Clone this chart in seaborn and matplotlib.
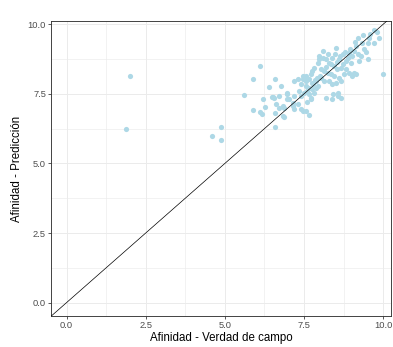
import numpy as np
import pandas as pd
import matplotlib
matplotlib.use("Agg")
import matplotlib.pyplot as plt
import seaborn as sns

# Verdad de campo (x) vs prediccion (y)
verdad = [1.89, 2.00, 4.59, 4.88, 4.88, 5.60, 5.90, 6.11, 10.0,
          5.88, 6.11, 6.18, 6.28, 6.22, 6.39, 6.51, 6.60, 6.72, 6.57,
          6.60, 6.83, 6.98, 7.02, 6.83, 6.78, 6.88, 6.62, 6.72, 6.88,
          7.14, 7.17, 7.30, 7.41, 7.46, 7.56, 7.67, 7.20, 7.19, 7.30,
          7.46, 7.56, 7.46, 7.41, 7.20, 7.41, 7.72, 7.72, 7.51, 7.61,
          7.67, 7.83, 7.56, 7.67, 7.77, 7.88, 7.56, 7.67, 7.72, 7.77,
          7.90, 7.83, 7.93, 7.98, 7.98, 8.04, 8.04, 8.09, 8.09, 8.14,
          8.14, 8.19, 8.25, 8.25, 8.30, 8.35, 8.35, 8.40, 8.40, 8.46,
          8.46, 8.49, 8.51, 8.51, 8.56, 8.61, 8.61, 8.67, 8.67, 8.72,
          8.72, 8.82, 8.82, 8.88, 8.93, 8.93, 9.03, 9.03, 9.09, 9.09,
          9.14, 9.16, 9.24, 9.30, 9.33, 9.40, 9.45, 9.51, 9.51, 9.54,
          9.72, 9.82, 9.87, 8.42, 8.40, 8.59, 8.67, 8.59, 8.21, 7.88,
          7.80, 7.95, 7.85, 8.00, 7.75, 8.20, 8.30, 8.55, 8.65, 8.80,
          8.95, 9.10, 9.20, 9.35, 9.60, 9.70, 9.00, 9.20, 8.75, 7.60,
          7.35, 6.56, 6.49, 6.98, 6.98]
prediccion = [6.24, 8.16, 5.97, 6.30, 5.85, 7.47, 8.02, 8.50, 8.22,
              6.92, 6.86, 6.78, 7.02, 7.30, 7.74, 7.38, 8.02, 7.42, 6.82,
              6.30, 7.06, 7.54, 7.30, 6.70, 7.78, 7.00, 7.12, 7.00, 6.66,
              7.18, 7.06, 7.12, 6.94, 6.90, 6.88, 6.76, 6.94, 7.96, 8.05,
              8.02, 8.14, 8.16, 7.84, 7.42, 7.42, 7.30, 7.34, 7.54, 7.60,
              7.48, 7.54, 7.78, 7.72, 7.66, 7.72, 7.96, 8.02, 8.20, 8.32,
              8.08, 8.44, 8.62, 8.74, 8.88, 8.08, 8.38, 8.80, 9.04, 8.32,
              7.96, 8.74, 8.26, 8.92, 7.96, 8.20, 8.56, 8.80, 7.84, 8.14,
              8.50, 8.92, 9.16, 7.90, 8.38, 8.74, 8.08, 8.44, 7.96, 8.56,
              8.92, 8.68, 8.38, 8.80, 8.98, 8.26, 8.86, 8.14, 9.04, 8.26,
              8.20, 9.22, 8.68, 8.86, 9.34, 9.12, 9.02, 8.74, 9.34, 9.52,
              9.34, 9.72, 9.52, 7.48, 7.30, 7.42, 7.36, 7.54, 7.36, 7.95,
              7.85, 7.80, 8.00, 8.15, 7.90, 8.45, 8.60, 8.65, 8.85, 9.00,
              9.10, 9.35, 9.50, 9.60, 9.65, 9.80, 8.60, 8.95, 8.20, 7.20,
              7.60, 7.36, 7.40, 7.48, 7.30]

df = pd.DataFrame({"verdad": verdad, "prediccion": prediccion})
ticks = [0.0, 2.5, 5.0, 7.5, 10.0]

sns.set_theme(style="white")
plt.rcParams["font.family"] = ["Liberation Sans", "DejaVu Sans"]

fig = plt.figure(figsize=(393 / 72, 347 / 72), dpi=72)
ax = fig.add_axes([51 / 393, 31 / 347, 340 / 393, 295 / 347])

# grid (major + minor) like theme_bw
for t in np.arange(-1.25, 11, 1.25):
    ax.axvline(t, color="#ebebeb", lw=1.0 if t % 2.5 == 0 else 0.6, zorder=0)
    ax.axhline(t, color="#ebebeb", lw=1.0 if t % 2.5 == 0 else 0.6, zorder=0)

sns.scatterplot(data=df, x="verdad", y="prediccion", ax=ax, color="#add8e6",
                s=27, linewidth=0, alpha=1, zorder=2)
ax.axline((0, 0), slope=1, color="black", lw=0.7, zorder=3)

ax.set_xlim(-0.49, 10.25)
ax.set_ylim(-0.48, 10.12)
ax.set_xticks(ticks)
ax.set_yticks(ticks)
ax.set_xticklabels([f"{t:.1f}" for t in ticks])
ax.set_yticklabels([f"{t:.1f}" for t in ticks])
ax.tick_params(axis="both", length=3, width=0.8, color="#333333",
               labelcolor="#4d4d4d", labelsize=9.4, pad=2, bottom=True, left=True)
for sp in ax.spines.values():
    sp.set_color("#333333")
    sp.set_linewidth(0.9)
ax.set_xlabel("Afinidad - Verdad de campo", fontsize=11.5, color="black", labelpad=2)
ax.set_ylabel("Afinidad - Predicción", fontsize=11.5, color="black", labelpad=5)

fig.savefig("out.png", dpi=72)
